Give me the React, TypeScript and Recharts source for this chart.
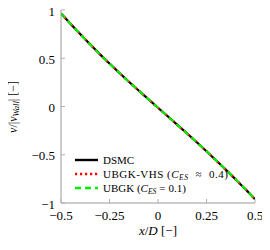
import React from 'react';
import { LineChart, Line, XAxis, YAxis } from 'recharts';

const xPositions = [-0.5, -0.45, -0.4, -0.35, -0.3, -0.25, -0.2, -0.15, -0.1, -0.05, 0, 0.05, 0.1, 0.15, 0.2, 0.25, 0.3, 0.35, 0.4, 0.45, 0.5];
const dsmcValues = [0.965, 0.855, 0.748, 0.644, 0.543, 0.445, 0.35, 0.257, 0.166, 0.076, -0.013, -0.101, -0.19, -0.28, -0.371, -0.464, -0.559, -0.656, -0.755, -0.856, -0.962];
const ubgkVhsValues = [0.965, 0.855, 0.748, 0.644, 0.543, 0.445, 0.35, 0.257, 0.166, 0.076, -0.013, -0.101, -0.19, -0.28, -0.371, -0.464, -0.559, -0.656, -0.755, -0.856, -0.962];
const ubgkValues = [0.965, 0.855, 0.748, 0.644, 0.543, 0.445, 0.35, 0.257, 0.166, 0.076, -0.013, -0.101, -0.19, -0.28, -0.371, -0.464, -0.559, -0.656, -0.755, -0.856, -0.962];

const xTicks = [-0.5, -0.25, 0, 0.25, 0.5];
const xTickLabels = ['\u22120.5', '\u22120.25', '0', '0.25', '0.5'];
const yTicks = [-1, -0.5, 0, 0.5, 1];
const yTickLabels = ['\u22121', '\u22120.5', '0', '0.5', '1'];

const data = xPositions.map((x, i) => ({
  x,
  dsmc: dsmcValues[i],
  vhs: ubgkVhsValues[i],
  ubgk: ubgkValues[i],
}));

const FONT = '"Liberation Serif", "Times New Roman", serif';
const AXIS = '#9a9a9a';
const TICK = '#b0b0b0';
const W = 270;
const H = 250;
const PLOT_TOP = 10;
const PLOT_BOTTOM = 203;
const PLOT_LEFT = 61;
const PLOT_RIGHT = 255;

const BottomTick = (props: any) => {
  const { x, y, payload } = props;
  const i = xTicks.indexOf(payload.value);
  return (
    <g>
      <line x1={x} y1={y} x2={x} y2={y - 4} stroke={TICK} strokeWidth={1} />
      <text x={x} y={y + 17} textAnchor="middle" fontFamily={FONT} fontSize={13} fill="#000">
        {xTickLabels[i]}
      </text>
    </g>
  );
};

const TopTick = (props: any) => {
  const { x, y } = props;
  return <line x1={x} y1={y} x2={x} y2={y + 4} stroke={TICK} strokeWidth={1} />;
};

const LeftTick = (props: any) => {
  const { x, y, payload } = props;
  const i = yTicks.indexOf(payload.value);
  return (
    <g>
      <line x1={x} y1={y} x2={x + 4} y2={y} stroke={TICK} strokeWidth={1} />
      <text x={x - 6} y={y + 5.5} textAnchor="end" fontFamily={FONT} fontSize={13} fill="#000">
        {yTickLabels[i]}
      </text>
    </g>
  );
};

const RightTick = (props: any) => {
  const { x, y } = props;
  return <line x1={x} y1={y} x2={x - 4} y2={y} stroke={TICK} strokeWidth={1} />;
};

const subStyle: React.CSSProperties = { fontSize: 7.5, verticalAlign: '-2px', lineHeight: 0 };

const legendItems = [
  { key: 'dsmc', color: '#000000', dash: undefined as string | undefined, label: <span>DSMC</span>, spacing: 0 },
  {
    key: 'vhs',
    color: '#ff0000',
    dash: '2.2 2.8',
    spacing: 0.5,
    label: (
      <span>
        UBGK-VHS (<i>C</i>
        <sub style={subStyle}><i>ES</i></sub>
        <span style={{ margin: '0 7px' }}>≈</span>0.4)
      </span>
    ),
  },
  {
    key: 'ubgk',
    color: '#00ee00',
    dash: '6 4',
    spacing: 0,
    label: (
      <span>
        UBGK (<i>C</i>
        <sub style={subStyle}><i>ES</i></sub>
        <span style={{ margin: '0 3px' }}>=</span>0.1)
      </span>
    ),
  },
];

export default function App() {
  return (
    <div style={{ position: 'relative', width: W, height: H, margin: -8 }}>
      <LineChart width={W} height={H} data={data} margin={{ top: PLOT_TOP, right: W - PLOT_RIGHT, bottom: 0, left: 0 }}>
        <XAxis
          xAxisId="b"
          dataKey="x"
          type="number"
          domain={[-0.5, 0.5]}
          ticks={xTicks}
          orientation="bottom"
          height={H - PLOT_BOTTOM}
          tickSize={0}
          tickMargin={0}
          tickLine={false}
          axisLine={{ stroke: AXIS, strokeWidth: 1 }}
          tick={<BottomTick />}
          interval={0}
          allowDataOverflow
        />
        <XAxis
          xAxisId="t"
          dataKey="x"
          type="number"
          domain={[-0.5, 0.5]}
          ticks={xTicks}
          orientation="top"
          height={0}
          tickSize={0}
          tickMargin={0}
          tickLine={false}
          axisLine={{ stroke: AXIS, strokeWidth: 1 }}
          tick={<TopTick />}
          interval={0}
          allowDataOverflow
        />
        <YAxis
          yAxisId="l"
          type="number"
          domain={[-1, 1]}
          ticks={yTicks}
          orientation="left"
          width={PLOT_LEFT}
          tickSize={0}
          tickMargin={0}
          tickLine={false}
          axisLine={{ stroke: AXIS, strokeWidth: 1 }}
          tick={<LeftTick />}
          interval={0}
          allowDataOverflow
        />
        <YAxis
          yAxisId="r"
          type="number"
          domain={[-1, 1]}
          ticks={yTicks}
          orientation="right"
          width={0}
          tickSize={0}
          tickMargin={0}
          tickLine={false}
          axisLine={{ stroke: AXIS, strokeWidth: 1 }}
          tick={<RightTick />}
          interval={0}
          allowDataOverflow
        />
        <Line
          xAxisId="b"
          yAxisId="l"
          dataKey="dsmc"
          stroke="#000000"
          strokeWidth={2.2}
          dot={false}
          type="monotone"
          isAnimationActive={false}
        />
        <Line
          xAxisId="b"
          yAxisId="l"
          dataKey="vhs"
          stroke="#ff0000"
          strokeWidth={2.2}
          strokeDasharray="2.2 2.8"
          dot={false}
          type="monotone"
          isAnimationActive={false}
        />
        <Line
          xAxisId="b"
          yAxisId="l"
          dataKey="ubgk"
          stroke="#00ee00"
          strokeWidth={2.2}
          strokeDasharray="6 4"
          dot={false}
          type="monotone"
          isAnimationActive={false}
        />
      </LineChart>
      <div
        style={{
          position: 'absolute',
          left: 13,
          top: (PLOT_TOP + PLOT_BOTTOM) / 2,
          transform: 'translate(-50%, -50%) rotate(-90deg)',
          fontFamily: FONT,
          fontSize: 12,
          lineHeight: '14px',
          whiteSpace: 'nowrap',
          color: '#000',
        }}
      >
        <i>v</i>/|<i>v</i>
        <sub style={{ fontSize: 8.5, verticalAlign: '-2px', lineHeight: 0 }}><i>Wall</i></sub>| [{'\u2212'}]
      </div>
      <div
        style={{
          position: 'absolute',
          left: (PLOT_LEFT + PLOT_RIGHT) / 2,
          top: 231,
          transform: 'translate(-50%, -50%)',
          fontFamily: FONT,
          fontSize: 13,
          lineHeight: '16px',
          whiteSpace: 'nowrap',
          color: '#000',
        }}
      >
        <i>x</i>/<i>D</i> [{'\u2212'}]
      </div>
      <div
        style={{
          position: 'absolute',
          left: 75,
          top: 153,
          fontFamily: FONT,
          fontSize: 11,
          color: '#000',
          lineHeight: '14px',
        }}
      >
        {legendItems.map((it) => (
          <div
            key={it.key}
            style={{ display: 'flex', alignItems: 'center', height: 14, whiteSpace: 'nowrap', letterSpacing: it.spacing }}
          >
            <svg width={23} height={4} style={{ marginRight: 5, display: 'block', flexShrink: 0 }}>
              <line x1={0} y1={2} x2={23} y2={2} stroke={it.color} strokeWidth={2.4} strokeDasharray={it.dash} />
            </svg>
            {it.label}
          </div>
        ))}
      </div>
    </div>
  );
}
